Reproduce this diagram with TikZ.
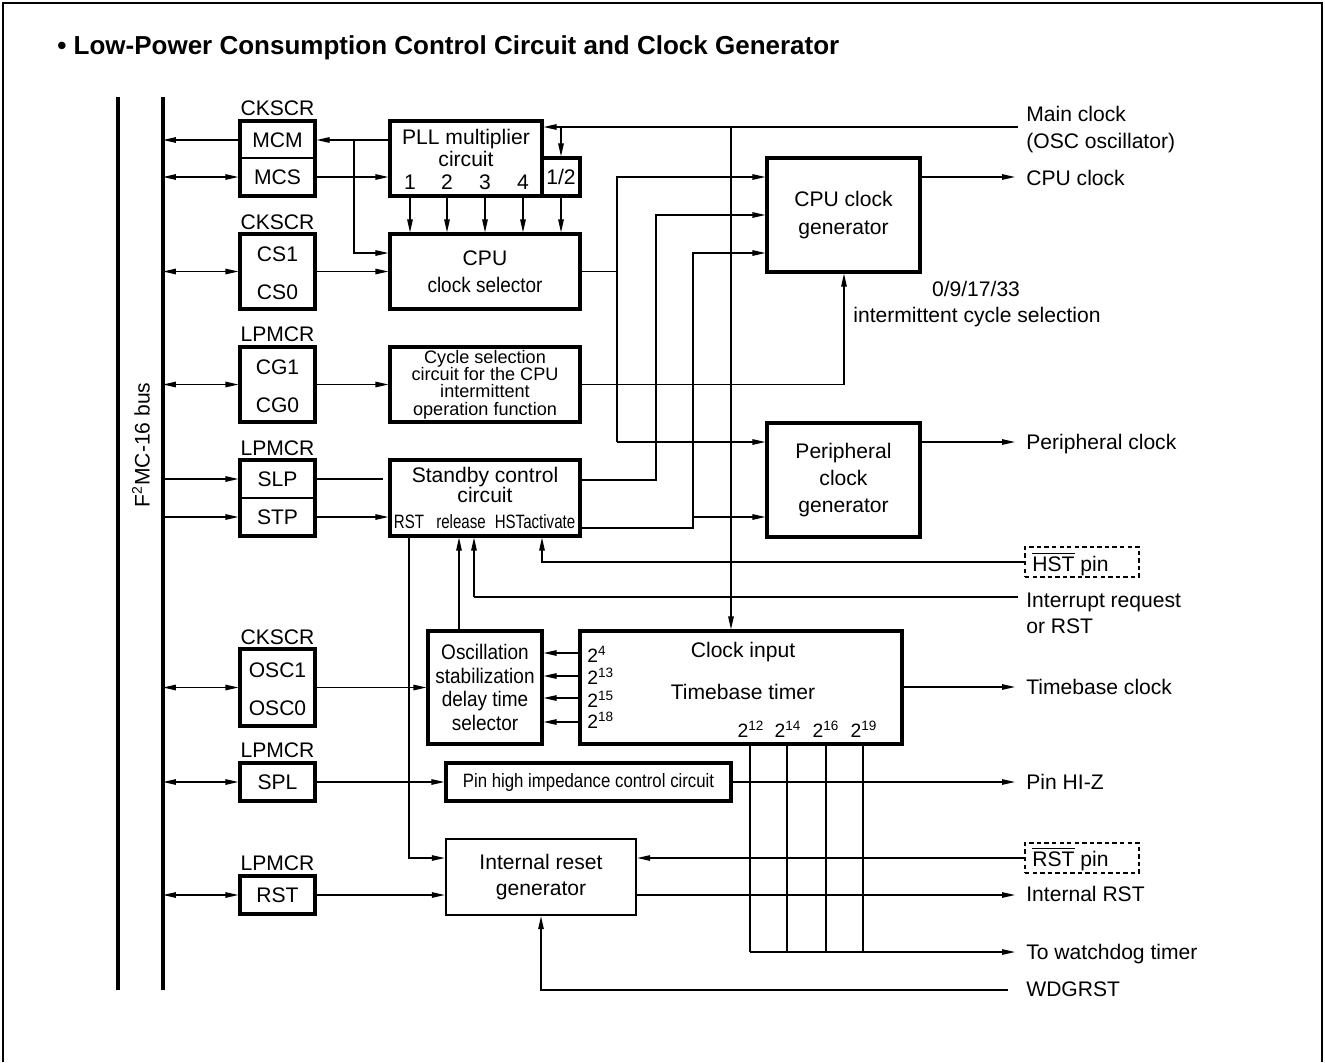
\documentclass[tikz,border=0pt]{standalone}
\usepackage{fontspec}
\setmainfont{Liberation Sans}
\newfontfamily\condA[FakeStretch=0.9]{Liberation Sans}
\newfontfamily\condB[FakeStretch=0.87]{Liberation Sans}
\newfontfamily\condC[FakeStretch=0.78]{Liberation Sans}
\usetikzlibrary{arrows.meta}
\newcommand\blk[7][]{\node[blkbox,#1,minimum width={(#5-#3)*0.02cm},minimum height={(#6-#4)*0.02cm}] (#2) at ({(#3+#5)/2},{(#4+#6)/2}) {#7};}
\newcommand\ovl[1]{\ensuremath{\overline{\mbox{#1}}}}
\tikzset{
 blkbox/.style={draw, line width=1.8pt, inner sep=0pt, align=center},
 wire/.style={line width=0.7pt},
 arr/.style={wire, -{Triangle[length=0.26cm,width=0.11cm]}},
 darr/.style={wire, {Triangle[length=0.26cm,width=0.11cm]}-{Triangle[length=0.26cm,width=0.11cm]}},
 txt/.style={inner sep=0pt},
 lbl/.style={inner sep=0pt, anchor=base west},
 pinbox/.style={draw, line width=0.6pt, dash pattern=on 2.5pt off 1.8pt},
 busline/.style={line width=1.8pt},
}
\begin{document}
\begin{tikzpicture}[x=0.02cm,y=-0.02cm,font=\fontsize{12}{14}\selectfont]
\useasboundingbox (0,0) rectangle (1325,1062);
% frame
\draw[line width=0.8pt] (3,1062) -- (3,3) -- (1322,3) -- (1322,1062);
% title
\node[lbl,font=\fontsize{14.8}{17}\selectfont\bfseries] (title) at (57,54) {\textbullet\ Low-Power Consumption Control Circuit and Clock Generator};
% bus
\coordinate (bus) at (163,97);
\coordinate (busb) at (163,990);
\coordinate (obus) at (118,97);
\coordinate (obusb) at (118,990);
\draw[busline] (obus) -- (obusb);
\draw[busline] (bus) -- (busb);
\node[txt,rotate=90] (buslbl) at (141,445) {F\textsuperscript{2}MC-16 bus};

% registers
\node[txt] (lA) at (277.5,108) {CKSCR};
\blk{rA}{240}{121}{315}{196}{}
\draw[wire] (rA.west |- 0,158) -- (rA.east |- 0,158);
\node[txt] (mcm) at (277.5,140) {MCM};
\node[txt] (mcs) at (277.5,177) {MCS};

\node[txt] (lB) at (277.5,222) {CKSCR};
\blk{rB}{240}{234}{315}{309}{}
\node[txt] (cs1) at (277.5,254) {CS1};
\node[txt] (cs0) at (277.5,292) {CS0};

\node[txt] (lC) at (277.5,334) {LPMCR};
\blk{rC}{240}{347}{315}{422}{}
\node[txt] (cg1) at (277.5,367) {CG1};
\node[txt] (cg0) at (277.5,405) {CG0};

\node[txt] (lD) at (277.5,448) {LPMCR};
\blk{rD}{240}{460}{315}{536}{}
\draw[wire] (rD.west |- 0,498) -- (rD.east |- 0,498);
\node[txt] (slp) at (277.5,479) {SLP};
\node[txt] (stp) at (277.5,517) {STP};

\node[txt] (lE) at (277.5,637) {CKSCR};
\blk{rE}{240}{649}{315}{726}{}
\node[txt] (osc1) at (277.5,670) {OSC1};
\node[txt] (osc0) at (277.5,708) {OSC0};

\node[txt] (lF) at (277.5,750) {LPMCR};
\blk{rF}{240}{763}{315}{801}{SPL}

\node[txt] (lG) at (277.5,863) {LPMCR};
\blk{rG}{240}{876}{315}{914}{RST}

% blocks
\blk{pll}{390}{121}{542}{196}{}
\node[txt,align=center,font=\fontsize{12}{13}\selectfont] (plltxt) at (466,148) {PLL multiplier\\circuit};
\node[txt] (n1) at (410,182) {1};
\node[txt] (n2) at (447,182) {2};
\node[txt] (n3) at (485,182) {3};
\node[txt] (n4) at (523,182) {4};
\blk{half}{542}{158}{580}{196}{1/2}

\blk[font=\fontsize{12}{15.3}\selectfont]{sel}{390}{234}{580}{309}{CPU\\{\condA clock selector}}
\blk[font=\fontsize{10.3}{9.8}\selectfont]{cyc}{390}{347}{580}{422}{Cycle selection\\circuit for the CPU\\intermittent\\operation function}
\blk{stby}{390}{460}{580}{536}{}
\node[txt,align=center,font=\fontsize{12}{11.3}\selectfont] (stbytxt) at (485,485) {Standby control\\circuit};
\node[txt,font=\condC\fontsize{11}{12}\selectfont] (srst) at (409,522) {RST};
\node[txt,font=\condC\fontsize{11}{12}\selectfont] (srel) at (461,522) {release};
\node[txt,font=\condC\fontsize{11}{12}\selectfont] (shst) at (535,522) {HSTactivate};

\blk[font=\fontsize{12}{15.8}\selectfont]{cpug}{767}{158}{920}{272}{CPU clock\\generator}
\blk[font=\fontsize{12}{15.6}\selectfont]{perg}{767}{423}{920}{537}{Peripheral\\clock\\generator}
\blk[font=\condA\fontsize{12}{13.3}\selectfont]{osel}{428}{631}{542}{744}{Oscillation\\stabilization\\delay time\\selector}
\blk{tbt}{580}{631}{902}{744}{}
\node[txt] (clkin) at (743,652) {Clock input};
\node[txt] (tbtxt) at (743,692) {Timebase timer};
\node[lbl,font=\fontsize{11}{12}\selectfont] (t4) at (587,662) {2\textsuperscript{4}};
\node[lbl,font=\fontsize{11}{12}\selectfont] (t13) at (587,684) {2\textsuperscript{13}};
\node[lbl,font=\fontsize{11}{12}\selectfont] (t15) at (587,707) {2\textsuperscript{15}};
\node[lbl,font=\fontsize{11}{12}\selectfont] (t18) at (587,728) {2\textsuperscript{18}};
\node[txt,anchor=base,font=\fontsize{11}{12}\selectfont] (b12) at (751,737) {2\textsuperscript{12}};
\node[txt,anchor=base,font=\fontsize{11}{12}\selectfont] (b14) at (788,737) {2\textsuperscript{14}};
\node[txt,anchor=base,font=\fontsize{11}{12}\selectfont] (b16) at (826,737) {2\textsuperscript{16}};
\node[txt,anchor=base,font=\fontsize{11}{12}\selectfont] (b19) at (864,737) {2\textsuperscript{19}};

\blk[font=\condB\fontsize{11}{12}\selectfont]{hiz}{446}{763}{731}{801}{Pin high impedance control circuit}
\blk[line width=1.4pt,font=\fontsize{12}{15.3}\selectfont]{irg}{446}{839}{636}{915}{Internal reset\\generator}

\blk[pinbox]{hstpin}{1025}{547}{1139}{577}{}
\node[lbl] (hsttxt) at (1032,571) {\ovl{HST} pin};
\blk[pinbox]{rstpin}{1025}{843}{1139}{873}{}
\node[lbl] (rsttxt) at (1032,866) {\ovl{RST} pin};

% right labels
\node[lbl] (lmain) at (1026,121.5) {Main clock};
\node[lbl] (losc) at (1026,148.5) {(OSC oscillator)};
\node[lbl] (lcpu) at (1026,185.5) {CPU clock};
\node[lbl] (lper) at (1026,449.5) {Peripheral clock};
\node[lbl] (lint) at (1026,607.5) {Interrupt request};
\node[lbl] (lor) at (1026,633) {or RST};
\node[lbl] (ltb) at (1026,694.5) {Timebase clock};
\node[lbl] (lhiz) at (1026,789.5) {Pin HI-Z};
\node[lbl] (lirst) at (1026,901.5) {Internal RST};
\node[lbl] (lwd) at (1026,959.5) {To watchdog timer};
\node[lbl] (lwdg) at (1026,996.5) {WDGRST};
\node[txt,anchor=base] (lsel1) at (976,296) {0/9/17/33};
\node[txt,anchor=base] (lsel2) at (977,322) {intermittent cycle selection};

% coordinates
\coordinate (jm) at (354,140);
\coordinate (jmlow) at (354,253);
\coordinate (mainin) at (1018,127);
\coordinate (jt) at (731,127);
\coordinate (v1) at (617,271.5);
\coordinate (c1) at (617,177);
\coordinate (p1) at (617,442);
\coordinate (s1) at (656,480);
\coordinate (c2) at (656,215);
\coordinate (s2) at (693,528);
\coordinate (c3) at (693,253);
\coordinate (p2) at (693,517);
\coordinate (g1) at (844,384.5);
\coordinate (slpend) at (383,479);
\coordinate (rstv) at (409,858);
\coordinate (rel1) at (459,600);
\coordinate (intin) at (1018,597);
\coordinate (rel2) at (474,597);
\coordinate (hst) at (542,562);
\coordinate (a1) at (580,653);
\coordinate (a2) at (580,676);
\coordinate (a3) at (580,698);
\coordinate (a4) at (580,722);
\coordinate (w1) at (750,952);
\coordinate (w2) at (787,952);
\coordinate (w3) at (826,952);
\coordinate (w4) at (863,952);
\coordinate (wdin) at (1008,990);
\coordinate (oCPU) at (1015,177);
\coordinate (oPER) at (1015,442);
\coordinate (oTB) at (1015,687);
\coordinate (oHIZ) at (1015,782);
\coordinate (oIRST) at (1015,895);
\coordinate (oWD) at (1015,952);

% bus connections
\draw[arr] (rA.west |- mcm) -- (bus |- mcm);
\draw[darr] (bus |- mcs) -- (rA.west |- mcs);
\draw[darr] (bus |- rB.west) -- (rB.west);
\draw[darr] (bus |- rC.west) -- (rC.west);
\draw[arr] (bus |- slp) -- (rD.west |- slp);
\draw[arr] (bus |- stp) -- (rD.west |- stp);
\draw[darr] (bus |- rE.west) -- (rE.west);
\draw[darr] (bus |- rF.west) -- (rF.west);
\draw[darr] (bus |- rG.west) -- (rG.west);

% PLL area
\draw[arr] (pll.west |- mcm) -- (rA.east |- mcm);
\draw[arr] (jm) -- (jmlow) -- (sel.west |- jmlow);
\draw[arr] (rA.east |- mcs) -- (pll.west |- mcs);
\foreach \n in {n1,n2,n3,n4} \draw[arr] (pll.south -| \n) -- (sel.north -| \n);
\draw[arr] (half.south) -- (sel.north -| half.south);
\draw[arr] (mainin) -- (pll.east |- mainin);
\draw[arr] (half.north |- mainin) -- (half.north);
\draw[arr] (jt) -- (jt |- tbt.north);
\draw[arr] (rB.east) -- (sel.west |- rB.east);

% clock generators
\draw[wire] (sel.east) -- (v1);
\draw[arr] (p1) -- (c1) -- (cpug.west |- c1);
\draw[arr] (p1) -- (perg.west |- p1);
\draw[arr] (stby.east |- s1) -- (s1) -- (c2) -- (cpug.west |- c2);
\draw[arr] (stby.east |- s2) -- (s2) -- (c3) -- (cpug.west |- c3);
\draw[arr] (p2) -- (perg.west |- p2);
\draw[arr] (rC.east) -- (cyc.west);
\draw[arr] (cyc.east) -- (g1) -- (cpug.south -| g1);
\draw[arr] (cpug.east |- c1) -- (oCPU);
\draw[arr] (perg.east |- p1) -- (oPER);

% standby
\draw[wire] (rD.east |- slp) -- (slpend);
\draw[arr] (rD.east |- stp) -- (stby.west |- stp);
\draw[arr] (stby.south -| rstv) -- (rstv) -- (irg.west |- rstv);
\draw[arr] (osel.north -| rel1) -- (stby.south -| rel1);
\draw[wire] (intin) -- (rel2);
\draw[arr] (rel2) -- (stby.south -| rel2);
\draw[arr] (hstpin.west) -- (hst) -- (stby.south -| hst);

% oscillation / timebase
\draw[arr] (rE.east) -- (osel.west |- rE.east);
\foreach \a in {a1,a2,a3,a4} \draw[arr] (tbt.west |- \a) -- (osel.east |- \a);
\draw[arr] (tbt.east |- oTB) -- (oTB);
\foreach \w in {w1,w2,w3,w4} \draw[wire] (tbt.south -| \w) -- (\w);
\draw[arr] (w1) -- (oWD);

% hi-z and reset
\draw[arr] (rF.east) -- (hiz.west);
\draw[arr] (hiz.east) -- (oHIZ);
\draw[arr] (rG.east) -- (irg.west |- rG.east);
\draw[arr] (rstpin.west) -- (irg.east |- rstpin.west);
\draw[arr] (irg.east |- oIRST) -- (oIRST);
\draw[arr] (wdin) -| (irg.south);
\end{tikzpicture}
\end{document}
